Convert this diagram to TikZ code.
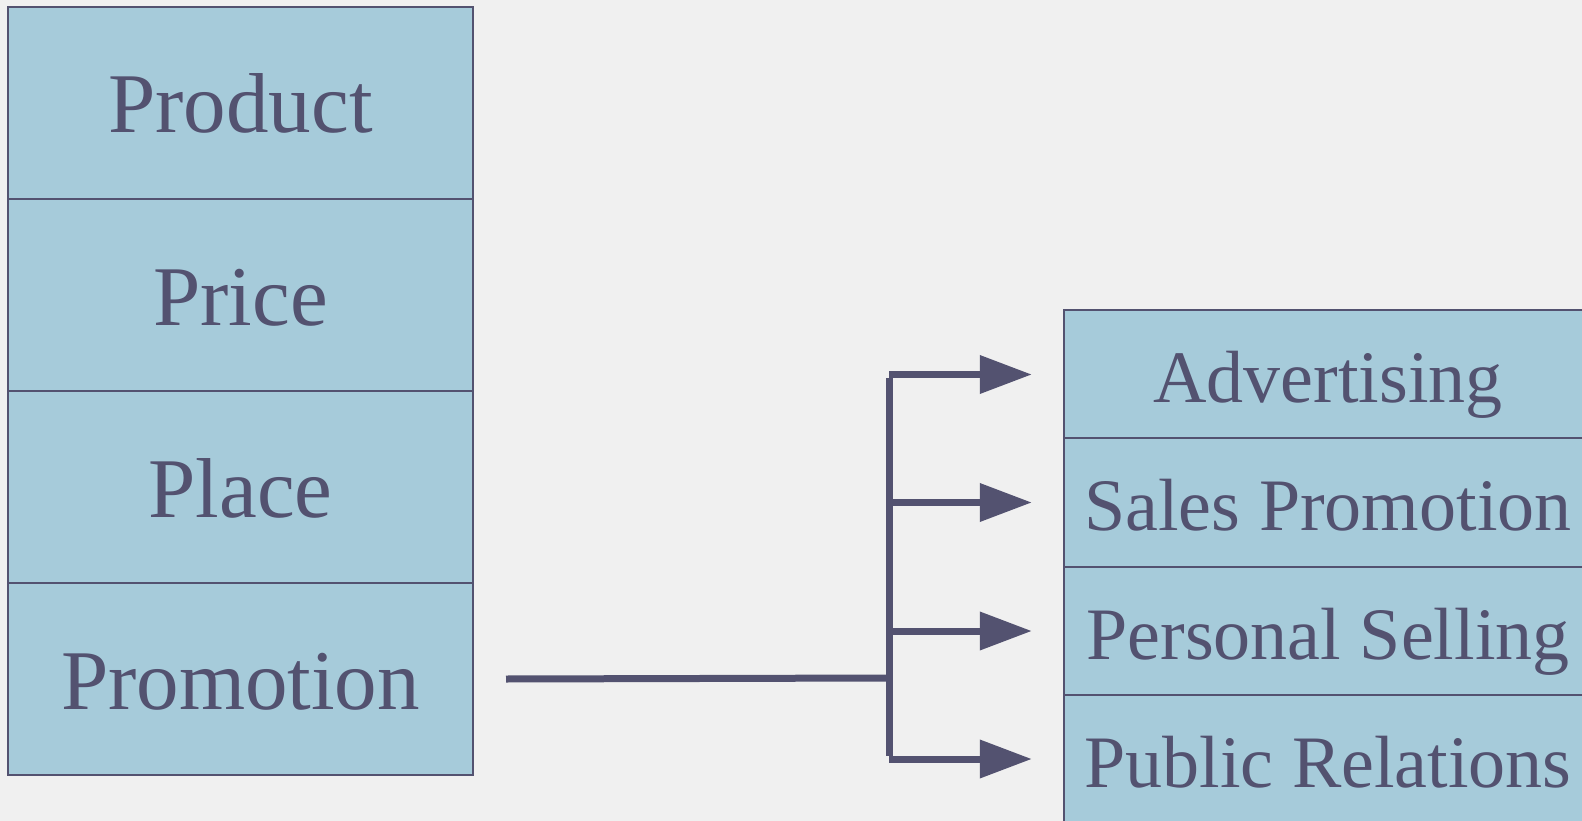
\documentclass[tikz,border=0pt]{standalone}
\usepackage{fontspec}
\setmainfont{Liberation Serif}
\usetikzlibrary{arrows.meta,backgrounds}
\definecolor{bg}{HTML}{F0F0F0}
\definecolor{boxfill}{HTML}{A6CBDA}
\definecolor{ink}{HTML}{535270}
\begin{document}
\begin{tikzpicture}[x=1pt,y=-1pt,
  mixbox/.style={draw=ink, line width=2pt, fill=boxfill, minimum width=465pt, minimum height=192pt,
    inner sep=0pt, text height=60pt, text depth=0pt, text=ink, font=\fontsize{85}{90}\selectfont},
  subbox/.style={minimum width=528pt, minimum height=128pt,
    inner sep=0pt, text height=56pt, text depth=0pt, text=ink, font=\fontsize{74}{79}\selectfont},
  subframe/.style={draw=ink, line width=2pt, fill=boxfill},
  link/.style={draw=ink, line width=7pt},
  arr/.style={link, -{Triangle[length=52pt, width=37pt]}}
]
\useasboundingbox (0,0) rectangle (1582,821);

\node[mixbox] (product) at (240.5,103) {Product};
\node[mixbox] (price)   at (240.5,295) {Price};
\node[mixbox] (place)   at (240.5,487) {Place};
\node[mixbox] (promo)   at (240.5,679) {Promotion};

\node[subbox] (adv)  at (1328,374.5) {Advertising};
\node[subbox] (sales) at (1328,502.5) {Sales Promotion};
\node[subbox] (pers) at (1328,631) {Personal Selling};
\node[subbox] (pub)  at (1328,759) {Public Relations};

\begin{scope}[on background layer]
  \fill[bg] (0,0) rectangle (1582,821);
  \foreach \n in {adv,sales,pers,pub}
    \draw[subframe] (\n.north west) rectangle ([xshift=120pt]\n.south east);
\end{scope}

\coordinate (start) at ([xshift=32pt]promo.east);
\coordinate (junc) at (889,678);
\coordinate (vtop) at (889,374.5);
\coordinate (vbot) at (889,759);

\draw[link] (start) -- (junc);
\draw[link] ([yshift=-3.5pt]vtop) -- ([yshift=3.5pt]vbot);
\foreach \n in {adv,sales,pers,pub}
  \draw[arr] (vtop |- \n.west) -- ([xshift=-32pt]\n.west);
\end{tikzpicture}
\end{document}
